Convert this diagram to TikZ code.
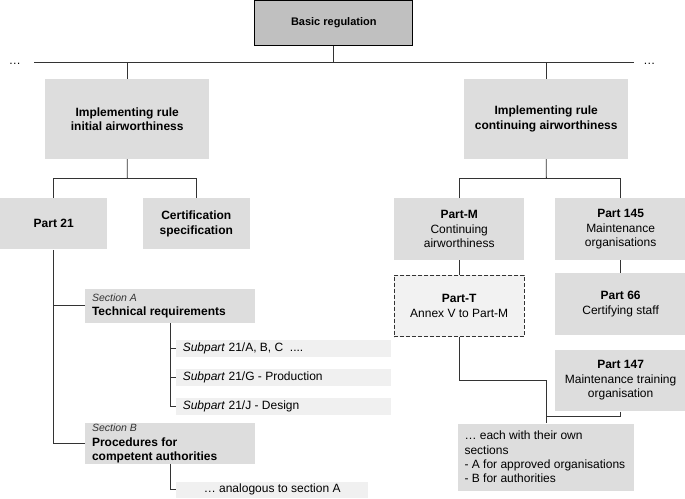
\documentclass[tikz,border=0pt]{standalone}
\usepackage{fontspec}
\setmainfont{Liberation Sans}
\usepackage{tikz}
\usetikzlibrary{positioning}
\definecolor{topgray}{HTML}{C0C0C0}
\definecolor{boxgray}{HTML}{DDDDDD}
\definecolor{subgray}{HTML}{F0F0F0}
\definecolor{tgray}{HTML}{F2F2F2}
\definecolor{linegray}{HTML}{333333}

\begin{document}
\begin{tikzpicture}[-, x=1pt, y=-1pt, line width=0.9pt, draw=linegray,
	font=\fontsize{12}{14.4}\selectfont,
	topbox/.style={draw=black, line width=1pt, fill=topgray, minimum width=158pt, minimum height=45pt, inner sep=0pt, font=\fontsize{11}{13}\selectfont\bfseries},
	rulebox/.style={fill=boxgray, minimum width=164.3pt, minimum height=79.4pt, inner sep=0pt, align=center, font=\fontsize{12}{14.4}\selectfont\bfseries},
	partbox/.style={fill=boxgray, minimum width=107.3pt, minimum height=51pt, inner sep=0pt, align=center, font=\fontsize{12}{14.4}\selectfont\bfseries},
	orgbox/.style={fill=boxgray, minimum width=130.5pt, minimum height=61.5pt, inner sep=0pt, align=center},
	tbox/.style={orgbox, fill=tgray, draw=linegray, dash pattern=on 4pt off 2pt},
	secbox/.style={fill=boxgray, text width=156pt, inner xsep=7pt, inner ysep=0pt, align=flush left},
	subbox/.style={fill=subgray, text width=201pt, inner xsep=6.7pt, inner ysep=0pt, minimum height=16.7pt, align=flush left}]
	\useasboundingbox (0,0) rectangle (685,498);
	
	\node[topbox] (basic) at (333.8,22.5) {Basic regulation};
	\node[rulebox] (irinit) at (127.2,119) {Implementing rule\\initial airworthiness};
	\node[rulebox] (ircont) at (546.2,119) {Implementing rule\\continuing airworthiness};
	\node[anchor=base] (dotsL) at (15,64.5) {\dots};
	\node[anchor=base] (dotsR) at (649.4,64.5) {\dots};
	
	\node[partbox] (part21) at (53.7,223.8) {Part 21};
	\node[partbox, right = 34.4pt of part21] (cs) {Certification\\specification};
	\node[orgbox] (partm) at (459.2,229.2) {\textbf{Part-M}\\Continuing\\airworthiness};
	\node[orgbox, right = 30pt of partm] (p145) {\textbf{Part 145}\\Maintenance\\organisations};
	\node[tbox, below = 14.3pt of partm] (partt) {\textbf{Part-T}\\Annex V to Part-M};
	\node[orgbox, below = 12.3pt of p145] (p66) {\textbf{Part 66}\\Certifying staff};
	\node[orgbox, below = 14pt of p66] (p147) {\textbf{Part 147}\\Maintenance training\\organisation};
	\node[secbox, text width=163pt, inner xsep=6.5pt, minimum height=67.2pt] (each) at (546,457.1) {\dots{} each with their own\\sections\\- A for approved organisations\\- B for authorities};
	
	\node[secbox, minimum height=33.7pt] (secA) at (170,305.9) {{\fontsize{10.5}{12}\selectfont\itshape\color{black!80}Section A}\\\textbf{Technical requirements}};
	\node[subbox] (sub1) at (283.3,348.3) {\textit{Subpart} 21/A, B, C\ \ ....};
	\node[subbox, below = 11.6pt of sub1] (sub2) {\textit{Subpart} 21/G - Production};
	\node[subbox, below = 11.3pt of sub2] (sub3) {\textit{Subpart} 21/J - Design};
	\node[secbox, minimum height=40.4pt] (secB) at (170,443.5) {{\fontsize{10.5}{12}\selectfont\itshape\color{black!80}Section B}\\\textbf{Procedures for}\\\textbf{competent authorities}};
	\node[fill=subgray, minimum width=192.3pt, minimum height=16.3pt, inner sep=0pt] (anal) at (272.2,489.8) {\dots{} analogous to section A};
	
	\coordinate (lineL) at (34,62.5);
	\coordinate (lineR) at (634,62.5);
	\coordinate (jl) at (127.3,178.3);
	\coordinate (jr) at (546.3,178.3);
	\coordinate (tlow) at (0,380);
	\coordinate (mlow) at (0,416);
	
	\draw (lineL) -- (lineR);
	\draw (basic.south) -- (basic.south |- lineL);
	\draw (irinit.north) -- (irinit.north |- lineL);
	\draw (ircont.north) -- (ircont.north |- lineL);
	\draw (irinit.south) -- (jl);
	\draw (ircont.south) -- (jr);
	\draw (part21.north) |- (jl) -| (cs.north);
	\draw (partm.north) |- (jr) -| (p145.north);
	\draw (partm) -- (partt);
	\draw (p145) -- (p66);
	\draw (partt.south) |- (each.north |- tlow) -- (each.north);
	\draw (p147.south) |- (each.north |- mlow);
	\draw (part21.south) |- (secB.west);
	\draw (part21.south |- secA.west) -- (secA.west);
	\draw (secA.south) |- (sub3.west);
	\draw (secA.south |- sub1.west) -- (sub1.west);
	\draw (secA.south |- sub2.west) -- (sub2.west);
	\draw (secB.south) |- (anal.west);
	
\end{tikzpicture}
\end{document}
